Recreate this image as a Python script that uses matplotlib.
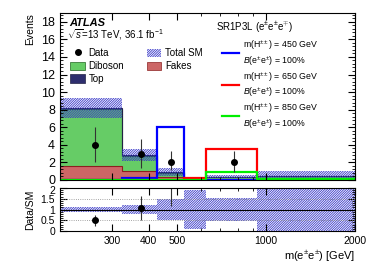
import matplotlib
matplotlib.use("Agg")
import matplotlib.pyplot as plt
import numpy as np
from matplotlib.patches import Patch
from matplotlib.lines import Line2D
from matplotlib.transforms import ScaledTranslation
from matplotlib.ticker import MultipleLocator, FixedLocator, NullFormatter, FixedFormatter

plt.rcParams['font.family'] = ['Liberation Sans', 'DejaVu Sans']
plt.rcParams['mathtext.fontset'] = 'custom'
plt.rcParams['mathtext.rm'] = 'Liberation Sans'
plt.rcParams['mathtext.it'] = 'Liberation Sans:italic'
plt.rcParams['hatch.linewidth'] = 0.6

# binning in m(e+-e+-) [GeV]
edges = [200, 325, 427, 527, 627, 932, 2000]

# SM backgrounds (stacked)
fakes = [1.6, 1.05, 0.35, 0.04, 0.1, 0.1]
diboson = [6.5, 1.7, 0.5, 0.04, 0.2, 0.35]
top = [0.08, 0.1, 0.08, 0.02, 0.05, 0.05]
sm_err = [1.1, 0.65, 0.45, 0.09, 0.18, 0.5]

# data
data = [4, 3, 2, 0, 2, 0]
data_err_lo = [2.0, 1.6, 0.9, 0, 1.05, 0]
data_err_hi = [2.0, 1.7, 1.3, 0, 1.3, 0]

# signals
sig450 = [0, 0.26, 6.0, 0.05, 0.05, 0]
sig650 = [0, 0, 0, 0.25, 3.5, 0]
sig850 = [0, 0, 0, 0, 0.87, 0.1]

edges = np.array(edges, float)
fakes = np.array(fakes); diboson = np.array(diboson); top = np.array(top)
total = fakes + diboson + top
sm_err = np.array(sm_err)
data = np.array(data, float)
centers = 0.5 * (edges[:-1] + edges[1:])
has = data > 0
HATCH = '/' * 14

c_fake = '#cc6666'
c_dib = '#66cc66'
c_top = '#2e2e6e'
c_band = '#3838c8'

fig = plt.figure(figsize=(3.74, 2.68), dpi=100)
ax = fig.add_axes([0.1604, 0.3284, 0.7886, 0.6231])
rax = fig.add_axes([0.1604, 0.138, 0.7886, 0.1605])

# stack
ax.stairs(fakes, edges, baseline=0, fill=True, facecolor=c_fake, edgecolor='none')
ax.stairs(fakes + diboson, edges, baseline=fakes, fill=True, facecolor=c_dib, edgecolor='none')
ax.stairs(total, edges, baseline=fakes + diboson, fill=True, facecolor=c_top, edgecolor='none')
ax.stairs(fakes, edges, baseline=None, color='#8b2020', lw=0.8)
ax.stairs(fakes + diboson, edges, baseline=None, color='#226622', lw=0.8)
ax.stairs(total, edges, baseline=None, color='#222244', lw=0.8)
ax.stairs(total + sm_err, edges, baseline=total - sm_err, fill=True,
          facecolor='none', edgecolor=c_band, hatch=HATCH, lw=0)

# signals
ax.stairs(sig450, edges, color='#0000ff', lw=1.6)
ax.stairs(sig650, edges, color='#ff0000', lw=1.6)
ax.stairs(sig850, edges, color='#00ee00', lw=1.6)

# data
ax.errorbar(centers[has], data[has],
            yerr=[np.array(data_err_lo)[has], np.array(data_err_hi)[has]],
            fmt='o', color='black', ms=4, elinewidth=0.8, capsize=0, ecolor='#333333')

# ratio panel
rel = sm_err / total
rax.stairs(1 + rel, edges, baseline=1 - rel, fill=True, facecolor='none',
           edgecolor=c_band, hatch=HATCH, lw=0)
for yv in (0.5, 1.5, 2.0):
    rax.axhline(yv, color='#888888', lw=0.6, ls=':')
rax.axhline(1, color='black', lw=0.8)
ratio = data / total
rax.errorbar(centers[has], ratio[has],
             yerr=[np.array(data_err_lo)[has] / total[has], np.array(data_err_hi)[has] / total[has]],
             fmt='o', color='black', ms=4, elinewidth=0.8, capsize=0, ecolor='#333333')

for a in (ax, rax):
    a.set_xscale('log')
    a.set_xlim(200, 2000)
    a.xaxis.set_major_locator(FixedLocator([300, 400, 500, 1000, 2000]))
    a.xaxis.set_minor_locator(FixedLocator([600, 700, 800, 900]))
    a.xaxis.set_minor_formatter(NullFormatter())
    a.tick_params(which='both', direction='in', top=True, right=True, labelsize=9)
    a.tick_params(which='major', length=5, width=0.8)
    a.tick_params(which='minor', length=2.5, width=0.6)
ax.xaxis.set_major_formatter(NullFormatter())
rax.xaxis.set_major_formatter(FixedFormatter(['300', '400', '500', '1000', '2000']))

ax.set_ylim(0, 19)
ax.yaxis.set_major_locator(MultipleLocator(2))
ax.yaxis.set_minor_locator(MultipleLocator(0.4))
ax.set_ylabel('Events', loc='top', fontsize=7.5)

rax.set_ylim(0, 2)
rax.yaxis.set_major_locator(FixedLocator([0, 0.5, 1, 1.5, 2]))
rax.yaxis.set_major_formatter(FixedFormatter(['0', '0.5', '1', '1.5', '2']))
rax.yaxis.set_minor_locator(MultipleLocator(0.1))
rax.tick_params(axis='both', labelsize=7.5)
rax.set_ylabel('Data/SM', fontsize=7.5)
rax.set_xlabel(r'm(e$^{\pm}$e$^{\pm}$) [GeV]', loc='right', fontsize=8, labelpad=2)
# nudge the top ratio label a bit down, away from the main panel's "0"
top_tick = rax.yaxis.get_major_ticks()[-1]
top_tick.label1.set_transform(top_tick.label1.get_transform()
                              + ScaledTranslation(0, -1.5 / 72, fig.dpi_scale_trans))

# text
ax.text(0.03, 0.94, 'ATLAS', transform=ax.transAxes, fontsize=8, fontweight='bold',
        fontstyle='italic', va='center')
ax.text(0.025, 0.868, r'$\sqrt{s}$=13 TeV, 36.1 fb$^{-1}$', transform=ax.transAxes,
        fontsize=7, va='center')
ax.text(0.53, 0.915, r'SR1P3L (e$^{\pm}$e$^{\pm}$e$^{\mp}$)', transform=ax.transAxes,
        fontsize=7, va='center')

h_data = Line2D([], [], marker='o', color='black', ms=4, ls='none')
h_dib = Patch(facecolor=c_dib, edgecolor='#226622', lw=0.5)
h_top = Patch(facecolor=c_top, edgecolor='#222244', lw=0.5)
h_tot = Patch(facecolor='white', edgecolor=c_band, hatch=HATCH, lw=0)
h_fake = Patch(facecolor=c_fake, edgecolor='#8b2020', lw=0.5)
leg1 = ax.legend([h_data, h_dib, h_top, h_tot, h_fake],
                 ['Data', 'Diboson', 'Top', 'Total SM', 'Fakes'],
                 ncol=2, loc='upper left', bbox_to_anchor=(0.015, 0.825), frameon=False,
                 fontsize=7, handlelength=1.5, handleheight=0.9, labelspacing=0.3,
                 columnspacing=2.3, handletextpad=0.4, borderpad=0.1)
ax.add_artist(leg1)

sig_labels = [r'm(H$^{\pm\pm}$) = %d GeV' '\n' r'$B$(e$^{\pm}$e$^{\pm}$) = 100%%' % m
              for m in (450, 650, 850)]
sig_handles = [Line2D([], [], color=c, lw=1.6) for c in ('#0000ff', '#ff0000', '#00ee00')]
ax.legend(sig_handles, sig_labels, loc='upper left', bbox_to_anchor=(0.53, 0.88),
          frameon=False, fontsize=6.3, handlelength=2.0, labelspacing=0.25,
          handletextpad=0.4, borderpad=0.1)

fig.savefig('out.png', dpi=100)
